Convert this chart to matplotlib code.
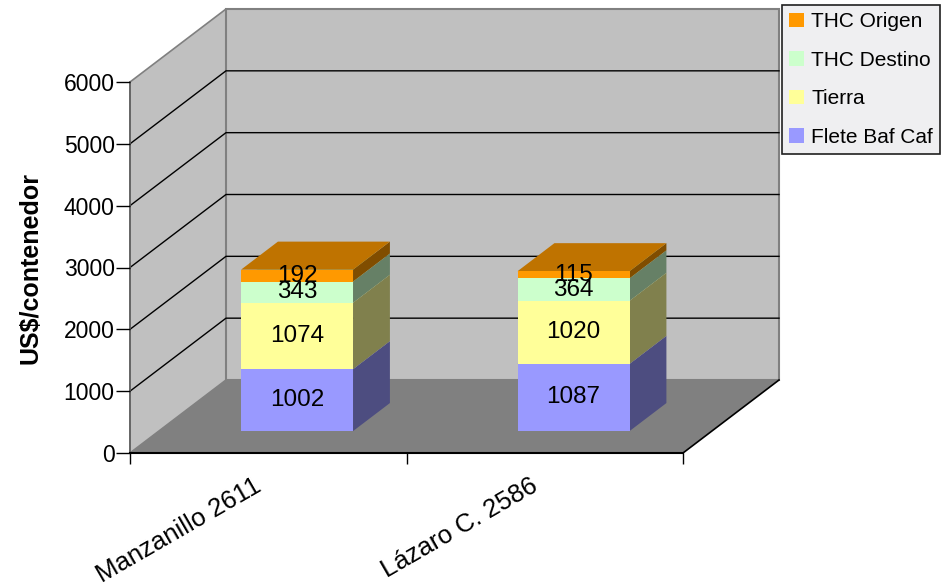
import matplotlib
matplotlib.use('Agg')
import matplotlib.pyplot as plt
from matplotlib.patches import Polygon, Patch
import numpy as np

plt.rcParams['font.family'] = ['Liberation Sans', 'DejaVu Sans']

categories = ['Manzanillo 2611', 'Lázaro C. 2586']
series_names = ['Flete Baf Caf', 'Tierra', 'THC Destino', 'THC Origen']
flete = [1002, 1087]
tierra = [1074, 1020]
thc_destino = [343, 364]
thc_origen = [192, 115]
y_ticks = [0, 1000, 2000, 3000, 4000, 5000, 6000]

series_values = [flete, tierra, thc_destino, thc_origen]
colors = ['#9999FF', '#FFFF99', '#CCFFCC', '#FF9900']

W, H = 943, 587
fig = plt.figure(figsize=(W / 100, H / 100), dpi=100)

# front plane of the 3-D box, in pixels
x0, x1, ytop, ybot = 130, 683, 82, 453
ax = fig.add_axes([x0 / W, 1 - ybot / H, (x1 - x0) / W, (ybot - ytop) / H])
ax.set_xlim(0, len(categories))
ax.set_ylim(0, y_ticks[-1])
ax.patch.set_visible(False)

# depth direction (oblique projection)
DPX, DPY = 96, 73
ddx = DPX / ((x1 - x0) / len(categories))
ddy = DPY / ((ybot - ytop) / y_ticks[-1])


def P(x, y, d):
    return (x + d * ddx, y + d * ddy)


def poly(pts, fc, ec='none', lw=0.0, z=1):
    ax.add_patch(Polygon(pts, closed=True, facecolor=fc, edgecolor=ec,
                         linewidth=lw, zorder=z, clip_on=False))


n = len(categories)
ymax = y_ticks[-1]
wall = '#C0C0C0'
edge = '#808080'

# walls and floor
poly([P(0, 0, 0), P(0, ymax, 0), P(0, ymax, 1), P(0, 0, 1)], wall, edge, 1.2, 0.5)
poly([P(0, 0, 1), P(n, 0, 1), P(n, ymax, 1), P(0, ymax, 1)], wall, edge, 1.5, 0.5)
poly([P(0, 0, 0), P(n, 0, 0), P(n, 0, 1), P(0, 0, 1)], '#808080', 'none', 0, 0.6)
fx, fy = zip(P(n, 0, 0), P(n, 0, 1))
ax.plot(fx, fy, color='black', lw=1.2, zorder=0.7, clip_on=False)

# gridlines on side and back walls
for v in y_ticks[1:-1]:
    xs, ys = zip(P(0, v, 0), P(0, v, 1), P(n, v, 1))
    ax.plot(xs, ys, color='black', lw=1.0, zorder=0.8, clip_on=False)

# stacked 3-D bars
f0, f1 = 0.30, 0.684
half = 0.2025


def shade(c, k):
    r, g, b = matplotlib.colors.to_rgb(c)
    return (r * k, g * k, b * k)


for i in range(n):
    base = 0
    xl, xr = i + 0.5 - half, i + 0.5 + half
    for vals, col in zip(series_values, colors):
        v = vals[i]
        t = base + v
        poly([P(xr, base, f0), P(xr, base, f1), P(xr, t, f1), P(xr, t, f0)],
             shade(col, 0.5), z=2)
        poly([P(xl, t, f0), P(xr, t, f0), P(xr, t, f1), P(xl, t, f1)],
             shade(col, 0.75), z=2)
        poly([P(xl, base, f0), P(xr, base, f0), P(xr, t, f0), P(xl, t, f0)],
             col, z=3)
        cx, cy = P(i + 0.5, (base + t) / 2, f0)
        ax.text(cx, cy, f'{v}', ha='center', va='center', fontsize=17.5,
                color='black', zorder=5)
        base = t

# axes styling
for s in ['top', 'right']:
    ax.spines[s].set_visible(False)
ax.spines['left'].set_color('#606060')
ax.spines['left'].set_linewidth(1.2)
ax.spines['bottom'].set_color('black')
ax.spines['bottom'].set_linewidth(1.5)
ax.spines['left'].set_zorder(1)
ax.spines['bottom'].set_zorder(1)

ax.set_yticks(y_ticks)
ax.set_yticklabels([str(v) for v in y_ticks])
ax.tick_params(axis='y', length=10, width=1, pad=1, labelsize=16.5,
               colors='black')

ax.set_xticks(np.arange(n + 1))
ax.set_xticklabels([''] * (n + 1))
ax.tick_params(axis='x', which='major', length=8, width=1, color='black')

# rotated category labels, hanging from the middle of each category
for i, cat in enumerate(categories):
    ax.annotate(cat, xy=(i + 0.5, 0), xycoords=('data', 'axes fraction'),
                xytext=(-11, -15), textcoords='offset points', fontsize=18.5,
                rotation=30, ha='right', va='top', rotation_mode='anchor',
                annotation_clip=False)

ax.set_ylabel('US$/contenedor', fontsize=18, fontweight='bold')
ax.yaxis.set_label_coords(-0.158, 0.5)

handles = [Patch(facecolor=c, edgecolor='none', label=s)
           for s, c in zip(series_names, colors)][::-1]
leg = fig.legend(handles=handles, loc='upper left',
                 bbox_to_anchor=(782 / W, 1 - 5 / H), fontsize=15,
                 frameon=True, fancybox=False, framealpha=1,
                 facecolor='#EFEFF1', edgecolor='#202020',
                 handlelength=0.7, handleheight=0.7, handletextpad=0.35,
                 labelspacing=0.94, borderpad=0.35, borderaxespad=0)
leg.get_frame().set_linewidth(1.2)

fig.savefig('out.png', dpi=100)
